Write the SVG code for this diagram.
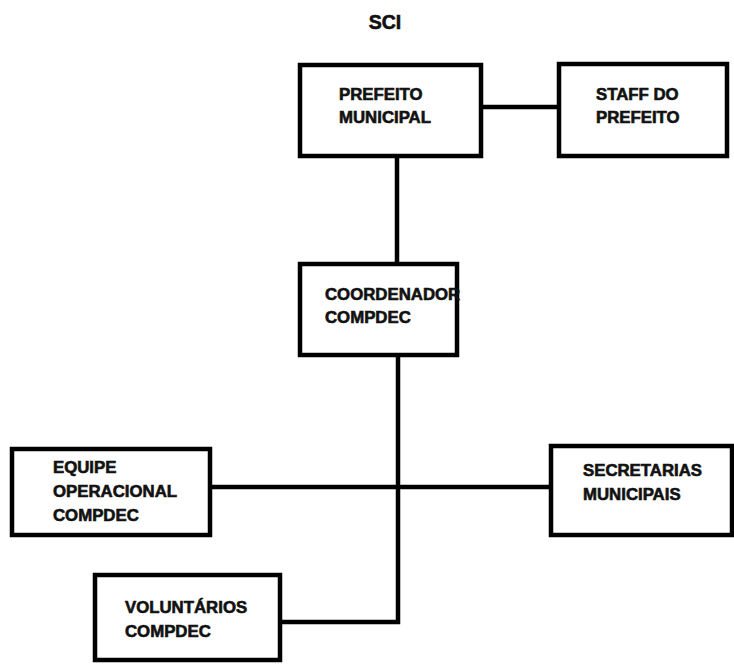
<svg xmlns="http://www.w3.org/2000/svg" width="734" height="664" viewBox="0 0 734 664">
<style>
.box{fill:#fff;stroke:#000;stroke-width:4.5}
.ln{stroke:#000;stroke-width:4.5;fill:none}
text{font-family:"Liberation Sans",Arial,sans-serif;font-weight:bold;font-size:16.8px;fill:#111;stroke:#111;stroke-width:0.6}
</style>
<rect width="734" height="664" fill="#fff"/>
<text x="385" y="29" text-anchor="middle" style="font-size:19.5px">SCI</text>
<g id="connectors">
<line class="ln" x1="483" y1="107" x2="557" y2="107"/>
<line class="ln" x1="397" y1="158" x2="397" y2="262"/>
<polyline class="ln" points="398,357 398,622 282,622"/>
<line class="ln" x1="212" y1="487" x2="549" y2="487"/>
</g>
<g id="prefeito">
<rect class="box" x="300" y="65" width="181" height="91"/>
<text x="339" y="100">PREFEITO</text>
<text x="339" y="123">MUNICIPAL</text>
</g>
<g id="staff">
<rect class="box" x="559" y="64" width="168" height="92"/>
<text x="596" y="100">STAFF DO</text>
<text x="596" y="123">PREFEITO</text>
</g>
<g id="coordenador">
<rect class="box" x="300" y="264" width="157" height="91"/>
<text x="325" y="300">COORDENADOR</text>
<text x="325" y="323">COMPDEC</text>
</g>
<g id="equipe">
<rect class="box" x="12" y="449" width="198" height="86"/>
<text x="53" y="473">EQUIPE</text>
<text x="53" y="497">OPERACIONAL</text>
<text x="53" y="521">COMPDEC</text>
</g>
<g id="secretarias">
<rect class="box" x="551" y="446" width="181" height="89"/>
<text x="583" y="476">SECRETARIAS</text>
<text x="583" y="500">MUNICIPAIS</text>
</g>
<g id="voluntarios">
<rect class="box" x="95" y="575" width="185" height="85"/>
<text x="125" y="613">VOLUNTÁRIOS</text>
<text x="125" y="637">COMPDEC</text>
</g>
</svg>
